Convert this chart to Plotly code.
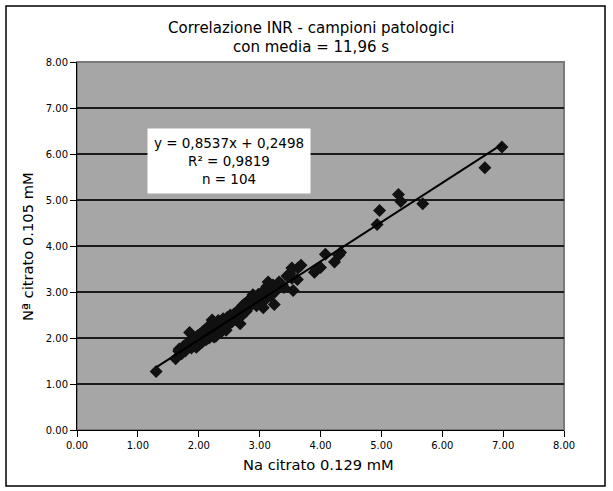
import plotly.graph_objects as go

# ---- data ----
x_vals = [
    6.98, 6.70, 5.28, 5.32, 5.68, 4.97, 4.93, 4.33, 4.30, 4.23,
    4.08, 4.00, 3.90, 3.93, 3.68, 3.63, 3.53, 3.53, 3.55, 3.62,
    3.37, 3.25, 3.24, 3.14, 3.18, 3.06, 2.89, 2.92, 2.73, 2.68,
    2.54, 2.45, 2.35, 2.22, 2.25, 1.85, 1.96, 1.80, 1.67, 1.62,
    1.30,
    1.68, 1.72, 1.75, 1.78, 1.82, 1.88, 1.90, 1.95, 1.98, 2.00,
    2.02, 2.05, 2.07, 2.08, 2.10, 2.12, 2.15, 2.17, 2.18, 2.20,
    2.21, 2.23, 2.25, 2.27, 2.28, 2.30, 2.32, 2.34, 2.36, 2.38,
    2.40, 2.44, 2.47, 2.50, 2.52, 2.55, 2.58, 2.60, 2.62, 2.65,
    2.68, 2.70, 2.72, 2.75, 2.78, 2.80, 2.83, 2.85, 2.88, 2.92,
    2.95, 2.98, 3.00, 3.08, 3.10, 3.12, 3.18, 3.22, 3.28, 3.32,
    3.40, 3.45, 3.50,
]
y_vals = [
    6.15, 5.70, 5.12, 4.97, 4.92, 4.77, 4.47, 3.86, 3.80, 3.65,
    3.82, 3.53, 3.43, 3.48, 3.58, 3.52, 3.52, 3.30, 3.03, 3.27,
    3.16, 3.00, 2.73, 3.22, 3.08, 2.66, 2.94, 2.79, 2.60, 2.31,
    2.42, 2.17, 2.28, 2.39, 2.02, 2.12, 1.80, 1.83, 1.72, 1.55,
    1.27,
    1.76, 1.66, 1.82, 1.72, 1.90, 1.78, 1.95, 1.82, 2.05, 1.85,
    2.08, 1.90, 2.14, 1.95, 2.18, 1.96, 2.22, 2.00, 2.26, 2.05,
    2.32, 2.08, 2.34, 2.12, 2.04, 2.30, 2.38, 2.18, 2.12, 2.36,
    2.42, 2.26, 2.45, 2.30, 2.50, 2.36, 2.52, 2.40, 2.56, 2.45,
    2.64, 2.48, 2.70, 2.74, 2.58, 2.78, 2.68, 2.86, 2.74, 2.90,
    2.70, 2.95, 2.76, 3.05, 2.84, 3.12, 2.92, 3.15, 3.08, 3.22,
    3.10, 3.35, 3.40,
]
slope = 0.8537
intercept = 0.2498
tick_vals = [0, 1, 2, 3, 4, 5, 6, 7, 8]
tick_text = ["0.00", "1.00", "2.00", "3.00", "4.00", "5.00", "6.00", "7.00", "8.00"]

title_lines = ["Correlazione INR - campioni patologici", "con media = 11,96 s"]
eq_text = "y = 0,8537x + 0,2498<br>R² = 0,9819<br>n = 104"
x_title = "Na citrato 0.129 mM"
y_title = "Nª citrato 0.105 mM"

FONT = "DejaVu Sans, Verdana, sans-serif"

x_line = [min(x_vals), max(x_vals)]
y_line = [slope * v + intercept for v in x_line]

fig = go.Figure()
fig.add_trace(go.Scatter(
    x=x_vals, y=y_vals, mode="markers",
    marker=dict(symbol="diamond", size=10, color="#111111", line=dict(width=0)),
    showlegend=False, hoverinfo="skip",
))
fig.add_trace(go.Scatter(
    x=x_line, y=y_line, mode="lines",
    line=dict(color="#000000", width=2),
    showlegend=False, hoverinfo="skip",
))

axis_common = dict(
    range=[0, 8], tickvals=tick_vals, ticktext=tick_text,
    ticks="outside", ticklen=6, tickcolor="#000000", tickwidth=1,
    showline=True, linecolor="#000000", linewidth=1,
    zeroline=False, fixedrange=True,
    tickfont=dict(family=FONT, size=10, color="#000000"),
)

PL, PR, PT, PB = 77, 564, 62, 430  # plot area in pixels
W, H = 613, 491

fig.update_layout(
    width=W, height=H,
    margin=dict(l=PL, r=W - PR, t=PT, b=H - PB),
    paper_bgcolor="#ffffff",
    plot_bgcolor="#a6a6a6",
    font=dict(family=FONT, color="#000000"),
    xaxis=dict(**axis_common, showgrid=False),
    yaxis=dict(**axis_common, showgrid=True, gridcolor="#1a1a1a", gridwidth=2),
    hovermode=False,
)


def px_x(p):
    return (p - PL) / (PR - PL)


def px_y(p):
    return (PB - p) / (PB - PT)


# plot-area border (gray top/right) drawn above the grid
fig.add_shape(type="rect", xref="paper", yref="paper", x0=0, y0=0, x1=1, y1=1,
              line=dict(color="#7a7a7a", width=2), layer="between")
# outer chart border
fig.add_shape(type="rect", xref="paper", yref="paper",
              x0=px_x(6), y0=px_y(486), x1=px_x(605), y1=px_y(6),
              line=dict(color="#000000", width=1.5))

# title (two lines, tight spacing)
for line_text, ypix in zip(title_lines, [28, 47]):
    fig.add_annotation(text=line_text, xref="paper", yref="paper",
                       x=px_x(311), y=px_y(ypix), showarrow=False,
                       xanchor="center", yanchor="middle",
                       font=dict(family=FONT, size=15, color="#000000"))
# axis titles
fig.add_annotation(text=x_title, xref="paper", yref="paper",
                   x=px_x(318), y=px_y(464), xanchor="center", yanchor="middle",
                   showarrow=False, font=dict(family=FONT, size=14.7))
fig.add_annotation(text=y_title, xref="paper", yref="paper",
                   x=px_x(27), y=px_y(247), textangle=-90,
                   xanchor="center", yanchor="middle",
                   showarrow=False, font=dict(family=FONT, size=14.7))
# regression box
fig.add_annotation(text=eq_text, xref="x", yref="y",
                   x=2.497, y=5.85, showarrow=False, align="center",
                   xanchor="center", yanchor="middle",
                   bgcolor="#ffffff", borderpad=3, width=156, height=58,
                   font=dict(family=FONT, size=13.5, color="#000000"))

fig.write_html(
    "out.html",
    config={"displayModeBar": False, "staticPlot": True},
    post_script="document.body.style.margin='0';document.body.style.overflow='hidden';",
)
